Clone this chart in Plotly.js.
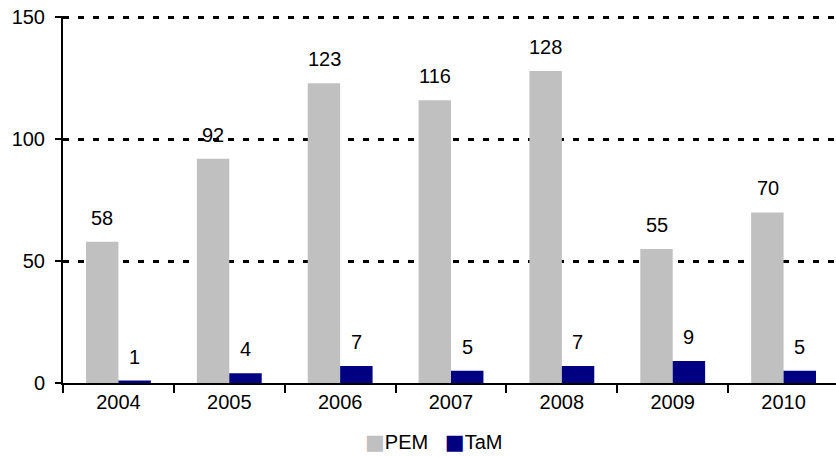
<!DOCTYPE html>
<html><head><meta charset="utf-8">
<script src="https://cdn.plot.ly/plotly-3.0.1.min.js"></script>
<style>html,body{margin:0;padding:0;overflow:hidden;background:#fff}</style>
</head><body><div id="chart" style="width:839px;height:457px"></div>
<script>
var years = ["2004","2005","2006","2007","2008","2009","2010"];
var pem = [58, 92, 123, 116, 128, 55, 70];
var tam = [1, 4, 7, 5, 7, 9, 5];
var seriesNames = ["PEM", "TaM"];
var seriesColors = ["#C0C0C0", "#000080"];
var FONT = "Liberation Sans, Arial, sans-serif";

var traces = [
  {type:"bar", name:seriesNames[0], x:years, y:pem, marker:{color:seriesColors[0]}, hoverinfo:"none"},
  {type:"bar", name:seriesNames[1], x:years, y:tam, marker:{color:seriesColors[1]}, hoverinfo:"none"}
];
var ann = [];
years.forEach(function(yr,i){
  ann.push({x:i, y:pem[i], text:String(pem[i]), showarrow:false, xshift:-16, yshift:11, yanchor:"bottom", font:{family:FONT,size:20,color:"#000"}});
  ann.push({x:i, y:tam[i], text:String(tam[i]), showarrow:false, xshift:16, yshift:11, yanchor:"bottom", font:{family:FONT,size:20,color:"#000"}});
});
// legend built as a text annotation
var legText = seriesNames.map(function(n,k){
  return '<span style="color:'+seriesColors[k]+';font-family:DejaVu Sans;font-size:21px">■</span>'+n;
}).join('&nbsp;&nbsp;&nbsp;');
ann.push({xref:"paper", yref:"paper", x:0.5, xshift:-17, y:-0.162, xanchor:"center", yanchor:"middle", showarrow:false, text:legText, font:{family:FONT,size:20,color:"#000"}});

var layout = {
  width:839, height:457,
  margin:{l:63, r:0, t:15.5, b:74, autoexpand:false},
  paper_bgcolor:"#fff", plot_bgcolor:"#fff",
  barmode:"group", bargap:0.415, bargroupgap:0,
  font:{family:FONT, size:20, color:"#000"},
  showlegend:false,
  xaxis:{type:"category", range:[-0.5,6.5], showline:true, linecolor:"#000", linewidth:2, ticks:"outside", tickson:"boundaries", ticklen:8, tickwidth:2, tickcolor:"#000", showgrid:false, tickfont:{size:20}, tickangle:0, fixedrange:true},
  yaxis:{range:[0,150.6], tickvals:[0,50,100,150], showline:true, linecolor:"#000", linewidth:2, ticks:"outside", ticklen:6, tickwidth:2, tickcolor:"#000", showgrid:true, gridcolor:"#000", gridwidth:3, griddash:"6px,9px", zeroline:false, tickfont:{size:20}, ticklabelstandoff:6, fixedrange:true},
  annotations:ann
};
Plotly.newPlot("chart", traces, layout, {displayModeBar:false, staticPlot:true});
</script></body></html>
